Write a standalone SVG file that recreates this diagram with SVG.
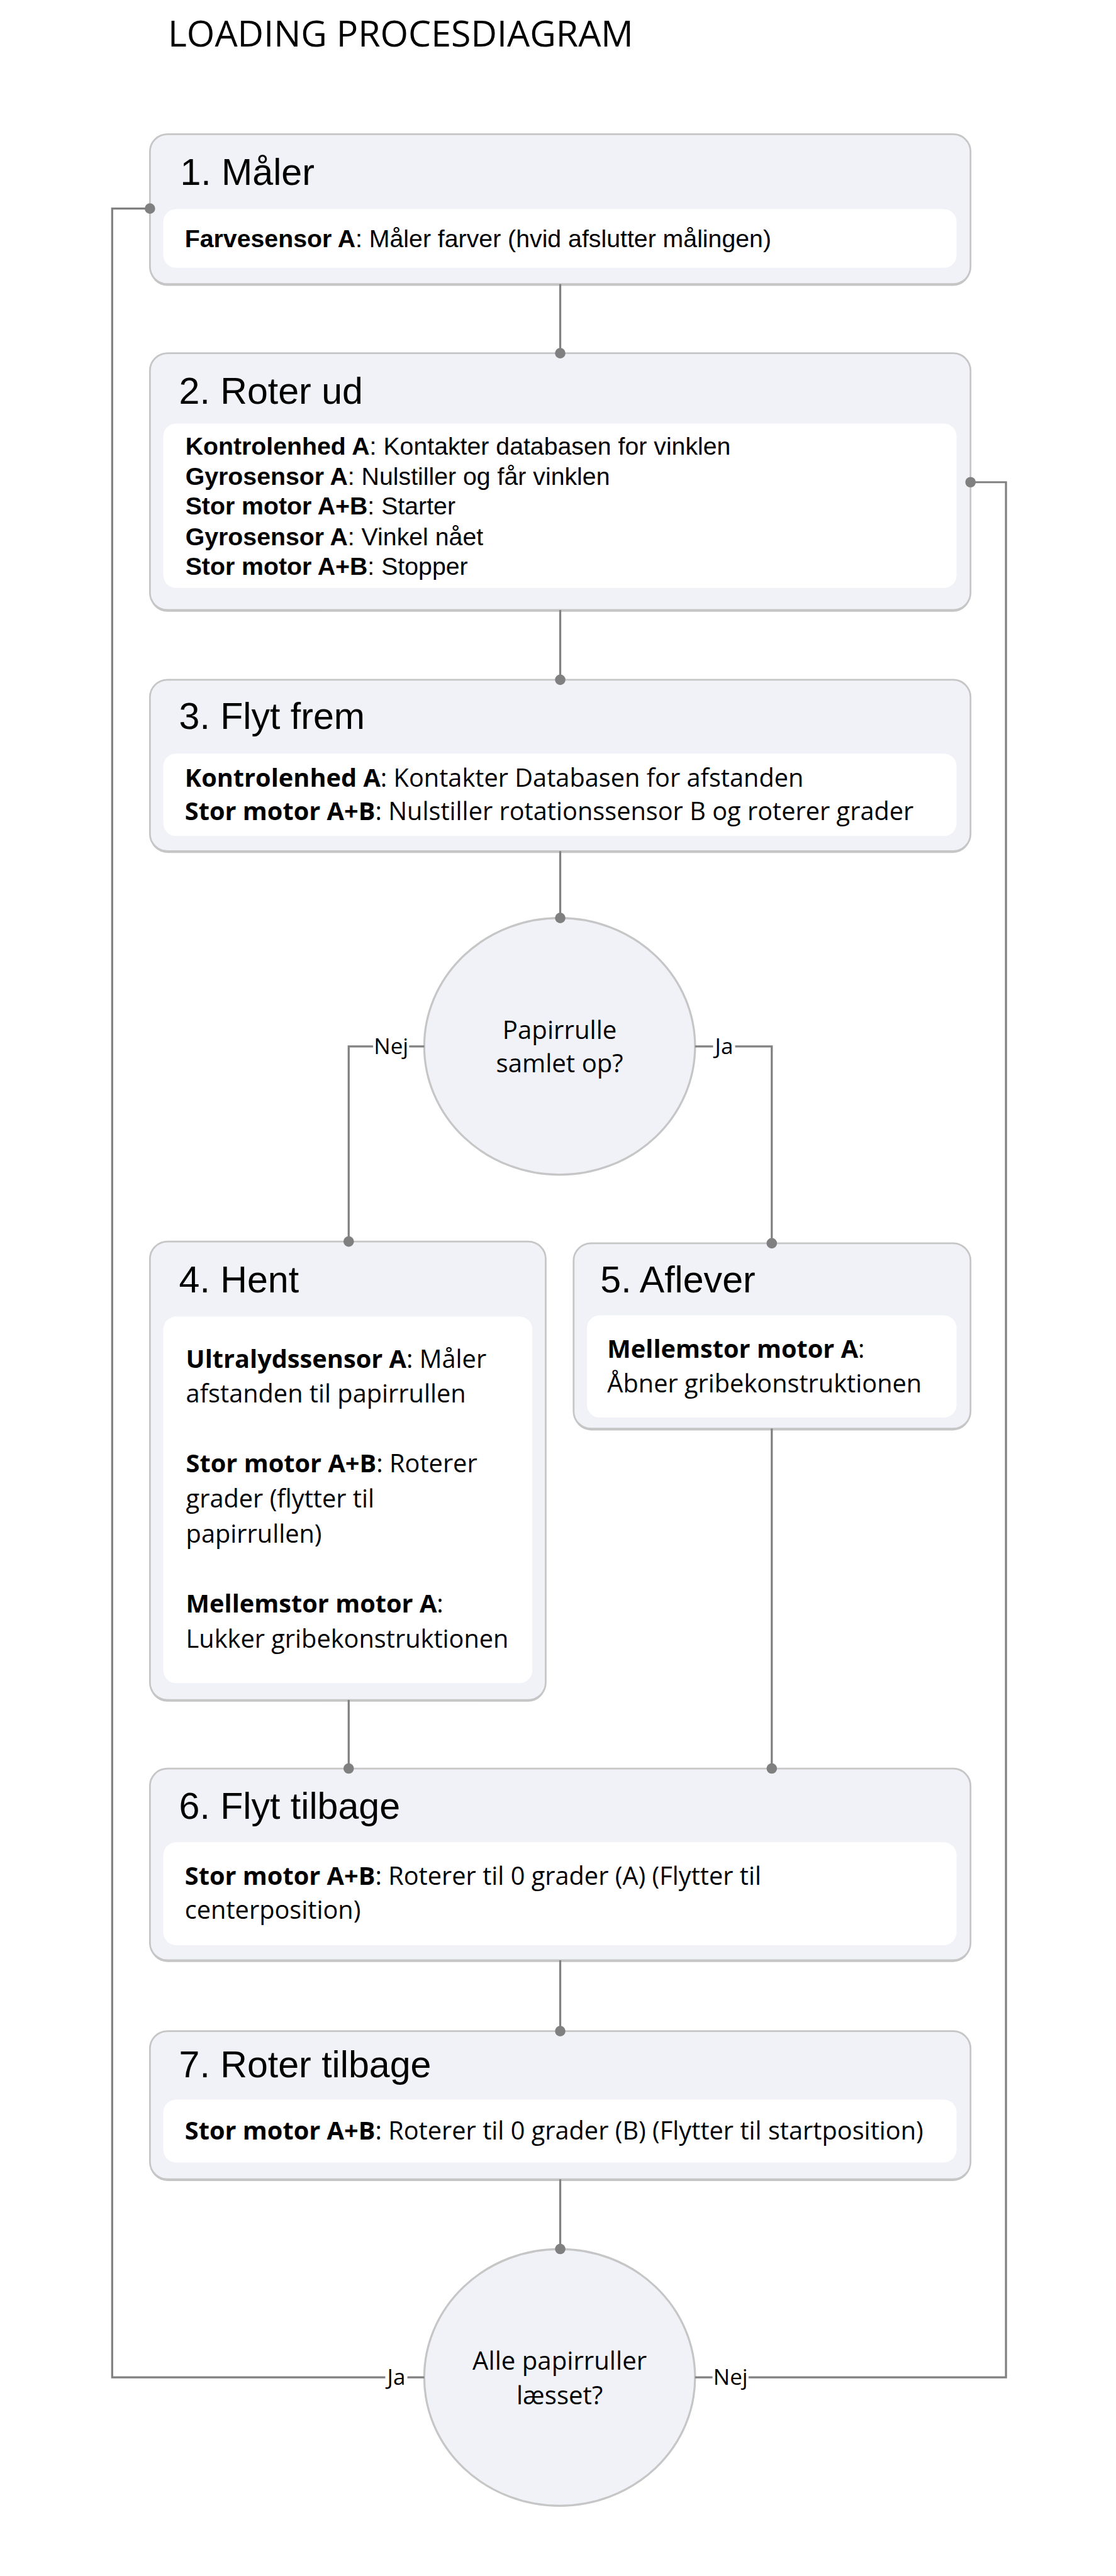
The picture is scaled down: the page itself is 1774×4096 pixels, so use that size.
<svg xmlns="http://www.w3.org/2000/svg" width="1774" height="4096" viewBox="0 0 1774 4096">
<defs>
<style>
.box{fill:#f1f2f7;stroke:#c6c6c6;stroke-width:3}
.shadow{fill:#c4c4c4}
.inner{fill:#ffffff}
.dec{fill:#f1f2f7;stroke:#c6c6c6;stroke-width:3.5}
.ttl{font-family:"Liberation Sans",Arial,sans-serif;font-size:64px;fill:#000}
.ar{font-family:"Liberation Sans",Arial,sans-serif;font-size:42.5px;fill:#000}
.ca{font-family:"Open Sans",sans-serif;font-size:43px;fill:#000}
.b{font-weight:bold}
.main{font-family:"Open Sans",sans-serif;font-size:62px;fill:#000}
.dt{font-family:"Open Sans",sans-serif;font-size:43.5px;fill:#000;text-anchor:middle}
.conn{fill:none;stroke:#808080;stroke-width:3.5}
.lbl{font-family:"Open Sans",sans-serif;font-size:38px;fill:#000;text-anchor:middle}
.lblbg{fill:#ffffff}
</style>
<marker id="dot" markerUnits="userSpaceOnUse" markerWidth="22" markerHeight="22" refX="11" refY="11" orient="auto">
<circle cx="11" cy="11" r="9" fill="#808080"/>
</marker>
</defs>
<rect width="1774" height="4096" fill="#ffffff"/>
<g transform="scale(0.9238)">
<text class="main" x="289" y="80">LOADING PROCESDIAGRAM</text>

<g id="node1">
<rect class="shadow" x="258" y="234" width="1412" height="258" rx="30"/>
<rect class="box" x="258" y="231" width="1412" height="258" rx="30"/>
<rect class="inner" x="281" y="360" width="1365" height="101" rx="22"/>
<text class="ttl" x="310" y="318">1. Måler</text>
<text class="ar" x="318" y="425"><tspan class="b">Farvesensor A</tspan>: Måler farver (hvid afslutter målingen)</text>
</g>

<g id="node2">
<rect class="shadow" x="258" y="611" width="1412" height="442" rx="30"/>
<rect class="box" x="258" y="608" width="1412" height="442" rx="30"/>
<rect class="inner" x="281" y="729" width="1365" height="283" rx="22"/>
<text class="ttl" x="308" y="695">2. Roter ud</text>
<text class="ar" x="319" y="783"><tspan class="b">Kontrolenhed A</tspan>: Kontakter databasen for vinklen</text>
<text class="ar" x="319" y="835"><tspan class="b">Gyrosensor A</tspan>: Nulstiller og får vinklen</text>
<text class="ar" x="319" y="886"><tspan class="b">Stor motor A+B</tspan>: Starter</text>
<text class="ar" x="319" y="938"><tspan class="b">Gyrosensor A</tspan>: Vinkel nået</text>
<text class="ar" x="319" y="989"><tspan class="b">Stor motor A+B</tspan>: Stopper</text>
</g>

<g id="node3">
<rect class="shadow" x="258" y="1173" width="1412" height="295" rx="30"/>
<rect class="box" x="258" y="1170" width="1412" height="295" rx="30"/>
<rect class="inner" x="281" y="1297" width="1365" height="142" rx="22"/>
<text class="ttl" x="308" y="1255">3. Flyt frem</text>
<text class="ca" x="318" y="1354"><tspan class="b">Kontrolenhed A</tspan>: Kontakter Databasen for afstanden</text>
<text class="ca" x="318" y="1412"><tspan class="b">Stor motor A+B</tspan>: Nulstiller rotationssensor B og roterer grader</text>
</g>

<g id="decision1">
<ellipse class="dec" cx="963" cy="1801" rx="233" ry="221"/>
<text class="dt" x="963" y="1788">Papirrulle</text>
<text class="dt" x="963" y="1846">samlet op?</text>
</g>

<g id="node4">
<rect class="shadow" x="258" y="2140" width="681" height="789" rx="30"/>
<rect class="box" x="258" y="2137" width="681" height="789" rx="30"/>
<rect class="inner" x="281" y="2266" width="635" height="631" rx="22"/>
<text class="ttl" x="308" y="2224">4. Hent</text>
<text class="ca" x="320" y="2354"><tspan class="b">Ultralydssensor A</tspan>: Måler</text>
<text class="ca" x="320" y="2414">afstanden til papirrullen</text>
<text class="ca" x="320" y="2534"><tspan class="b">Stor motor A+B</tspan>: Roterer</text>
<text class="ca" x="320" y="2595">grader (flytter til</text>
<text class="ca" x="320" y="2655">papirrullen)</text>
<text class="ca" x="320" y="2775"><tspan class="b">Mellemstor motor A</tspan>:</text>
<text class="ca" x="320" y="2836">Lukker gribekonstruktionen</text>
</g>

<g id="node5">
<rect class="shadow" x="987" y="2143" width="683" height="319" rx="30"/>
<rect class="box" x="987" y="2140" width="683" height="319" rx="30"/>
<rect class="inner" x="1010" y="2264" width="636" height="176" rx="22"/>
<text class="ttl" x="1033" y="2224">5. Aflever</text>
<text class="ca" x="1045" y="2337"><tspan class="b">Mellemstor motor A</tspan>:</text>
<text class="ca" x="1045" y="2397">Åbner gribekonstruktionen</text>
</g>

<g id="node6">
<rect class="shadow" x="258" y="3047" width="1412" height="330" rx="30"/>
<rect class="box" x="258" y="3044" width="1412" height="330" rx="30"/>
<rect class="inner" x="281" y="3171" width="1365" height="177" rx="22"/>
<text class="ttl" x="308" y="3131">6. Flyt tilbage</text>
<text class="ca" x="318" y="3244"><tspan class="b">Stor motor A+B</tspan>: Roterer til 0 grader (A) (Flytter til</text>
<text class="ca" x="318" y="3303">centerposition)</text>
</g>

<g id="node7">
<rect class="shadow" x="258" y="3499" width="1412" height="255" rx="30"/>
<rect class="box" x="258" y="3496" width="1412" height="255" rx="30"/>
<rect class="inner" x="281" y="3614" width="1365" height="108" rx="22"/>
<text class="ttl" x="308" y="3575">7. Roter tilbage</text>
<text class="ca" x="318" y="3683"><tspan class="b">Stor motor A+B</tspan>: Roterer til 0 grader (B) (Flytter til startposition)</text>
</g>

<g id="decision2">
<ellipse class="dec" cx="963" cy="4092" rx="233" ry="221"/>
<text class="dt" x="963" y="4079">Alle papirruller</text>
<text class="dt" x="963" y="4138">læsset?</text>
</g>

<g id="connectors">
<path class="conn" d="M964,489 V608" marker-end="url(#dot)"/>
<path class="conn" d="M964,1050 V1170" marker-end="url(#dot)"/>
<path class="conn" d="M964,1465 V1580" marker-end="url(#dot)"/>
<path class="conn" d="M730,1801 H600 V2137" marker-end="url(#dot)"/>
<path class="conn" d="M1196,1801 H1328 V2140" marker-end="url(#dot)"/>
<path class="conn" d="M600,2926 V3044" marker-end="url(#dot)"/>
<path class="conn" d="M1328,2459 V3044" marker-end="url(#dot)"/>
<path class="conn" d="M964,3374 V3496" marker-end="url(#dot)"/>
<path class="conn" d="M964,3751 V3871" marker-end="url(#dot)"/>
<path class="conn" d="M730,4092 H193 V359 H258" marker-end="url(#dot)"/>
<path class="conn" d="M1196,4092 H1731 V830 H1670" marker-end="url(#dot)"/>
<rect class="lblbg" x="642" y="1783" width="62" height="38"/>
<text class="lbl" x="673" y="1814">Nej</text>
<rect class="lblbg" x="1227" y="1783" width="38" height="38"/>
<text class="lbl" x="1246" y="1814">Ja</text>
<rect class="lblbg" x="663" y="4074" width="38" height="38"/>
<text class="lbl" x="682" y="4105">Ja</text>
<rect class="lblbg" x="1226" y="4074" width="62" height="38"/>
<text class="lbl" x="1257" y="4105">Nej</text>
</g>
</g>
</svg>
